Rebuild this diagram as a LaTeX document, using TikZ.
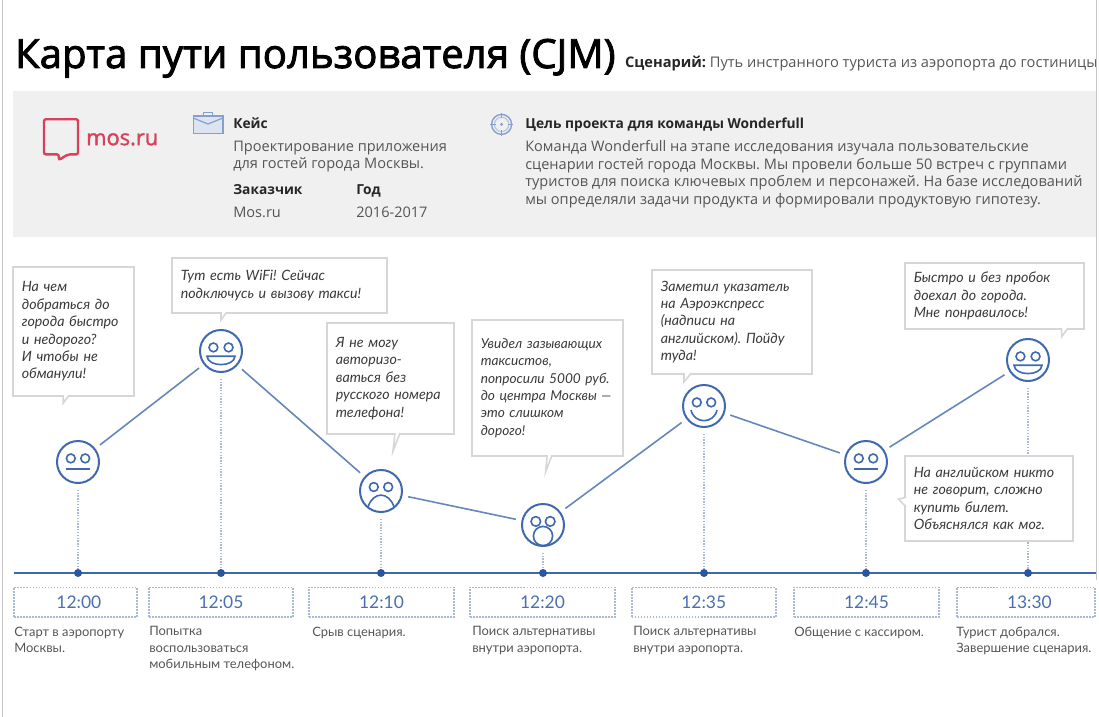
\documentclass[tikz,border=0pt]{standalone}
\usepackage{fontspec}
\setmainfont{Lato}
\newfontfamily\headfont{Open Sans}
\newfontfamily\titlefont{Open Sans}[FakeBold=2.2]
\newfontfamily\logofont{Open Sans}[FakeBold=1.6]
\frenchspacing
\usetikzlibrary{positioning,calc}
\definecolor{faceblue}{HTML}{3F69AE}
\definecolor{linkblue}{HTML}{6687BC}
\definecolor{dotblue}{HTML}{2B569F}
\definecolor{timeblue}{HTML}{4A6EAF}
\definecolor{dotgrey}{HTML}{A9BAD6}
\definecolor{panelgrey}{HTML}{F0F0F0}
\definecolor{edgegrey}{HTML}{D6D6D6}
\definecolor{bodygrey}{HTML}{555555}
\definecolor{bubbletext}{HTML}{3A3A3A}
\definecolor{mosred}{HTML}{D9405A}
\definecolor{iconblue}{HTML}{86A0CC}
\definecolor{iconfill}{HTML}{DCE4F1}
\tikzset{
  face/.style={circle, draw=faceblue, line width=0.5mm, minimum size=1.05cm,
               inner sep=0pt, outer sep=0.17cm},
  facepart/.style={draw=faceblue, line width=0.4mm},
  tick/.style={circle, fill=dotblue, minimum size=0.2cm, inner sep=0pt},
  stem/.style={dotgrey, line width=0.35mm, densely dotted},
  track/.style={faceblue, line width=0.4mm},
  link/.style={linkblue, line width=0.4mm},
  bubble/.style={rectangle, draw=edgegrey, line width=0.4mm, fill=white,
                 align=left, inner xsep=0.22cm, inner ysep=0pt,
                 text=bubbletext, font=\fontsize{10.1}{12.4}\selectfont\itshape},
  bubbletail/.style={draw=edgegrey, line width=0.4mm, fill=white},
  timebox/.style={rectangle, draw=dotgrey, line width=0.4mm, densely dotted,
                  minimum height=0.74cm, inner sep=0pt, text=timeblue,
                  font=\fontsize{12.4}{14}\selectfont},
  caption/.style={anchor=north west, align=left, inner sep=0pt, text=bodygrey,
                  font=\fontsize{9.2}{11.7}\selectfont},
  headbold/.style={anchor=base west, inner sep=0pt, text=black!85,
                   font=\headfont\fontsize{9.8}{12}\selectfont\bfseries},
  headtext/.style={anchor=north west, align=left, inner sep=0pt, text=bodygrey,
                   font=\headfont\fontsize{10.35}{12.4}\selectfont},
  edgeline/.style={black!22, line width=0.4mm}
}
\tikzset{neutralface/.pic={
  \draw[facepart] (-0.18,0.09) circle (0.11);
  \draw[facepart] (0.18,0.09) circle (0.11);
  \draw[facepart] (-0.3,-0.17) -- (0.3,-0.17);
}}
\tikzset{laughface/.pic={
  \draw[facepart] (-0.19,0.09) circle (0.11);
  \draw[facepart] (0.19,0.09) circle (0.11);
  \draw[facepart] (-0.35,-0.13) -- (0.35,-0.13) .. controls (0.33,-0.41) and (-0.33,-0.41) .. cycle;
}}
\tikzset{sadface/.pic={
  \draw[facepart] (-0.18,0.1) circle (0.11);
  \draw[facepart] (0.18,0.1) circle (0.11);
  \draw[facepart] (-0.33,-0.41) .. controls (-0.2,0) and (0.2,0) .. (0.33,-0.41);
}}
\tikzset{shockface/.pic={
  \draw[facepart] (-0.18,0.09) circle (0.12);
  \draw[facepart] (0.18,0.09) circle (0.12);
  \draw[facepart] (0,-0.275) circle (0.24);
}}
\tikzset{smileface/.pic={
  \draw[facepart] (-0.18,0.09) circle (0.11);
  \draw[facepart] (0.18,0.09) circle (0.11);
  \draw[facepart] (-0.325,-0.1) .. controls (-0.25,-0.456) and (0.25,-0.456) .. (0.325,-0.1);
}}
\begin{document}
\begin{tikzpicture}
\useasboundingbox (0,0) rectangle (27.475,-17.925);
% header
\fill[panelgrey] (0.325,-2.275) rectangle (27.4,-5.925);
\node[anchor=base west, inner sep=0pt, font=\titlefont\fontsize{28.6}{32}\selectfont] (title) at (0.37,-1.7) {Карта пути пользователя (CJM)};
\node[anchor=base west, inner sep=0pt, text=bodygrey, font=\headfont\fontsize{10.4}{12}\selectfont] (scenario) at (15.62,-1.7) {\textcolor{black!85}{\bfseries Сценарий:} Путь инстранного туриста из аэропорта до гостиницы};
% logo
\draw[mosred, line width=0.6mm, rounded corners=0.05cm] (1.1,-2.98) -- (1.95,-2.98) -- (1.95,-3.86) -- (1.7,-3.86) -- (1.47,-4.0) -- (1.47,-3.86) -- (1.1,-3.86) -- cycle;
\node[anchor=base west, inner sep=0pt, text=mosred, font=\logofont\fontsize{15.5}{18}\selectfont] (mos) at (2.15,-3.63) {mos.ru};
% case icon
\draw[iconblue, fill=iconfill, line width=0.35mm] (4.83,-2.9) rectangle (5.57,-3.33);
\draw[iconblue, line width=0.3mm] (5.08,-2.9) -- (5.08,-2.82) -- (5.32,-2.82) -- (5.32,-2.9);
\draw[iconblue, line width=0.3mm] (4.83,-2.95) -- (5.2,-3.1) -- (5.57,-2.95);
% goal icon
\draw[iconblue, line width=0.35mm] (12.54,-3.11) circle (0.25);
\draw[iconblue!60, line width=0.3mm] (12.54,-3.11) circle (0.18);
\fill[iconblue] (12.54,-3.11) circle (0.04);
\draw[iconblue, line width=0.3mm] (12.54,-2.82) -- (12.54,-2.96) (12.54,-3.26) -- (12.54,-3.4) (12.25,-3.11) -- (12.39,-3.11) (12.69,-3.11) -- (12.83,-3.11);
% case text
\node[headbold] (casehead) at (5.825,-3.22) {Кейс};
\node[headtext] (casetext) at (5.825,-3.51) {Проектирование приложения\\для гостей города Москвы.};
\node[headbold] (clienthead) at (5.825,-4.87) {Заказчик};
\node[headbold] (yearhead) at (8.9,-4.87) {Год};
\node[headtext] (clienttext) at (5.825,-5.16) {Mos.ru};
\node[headtext] (yeartext) at (8.9,-5.16) {2016-2017};
\node[headbold] (goalhead) at (13.125,-3.22) {Цель проекта для команды Wonderfull};
\node[headtext] (goaltext) at (13.125,-3.51) {Команда Wonderfull на этапе исследования изучала пользовательские\\сценарии гостей города Москвы. Мы провели больше 50 встреч с группами\\туристов для поиска ключевых проблем и персонажей. На базе исследований\\мы определяли задачи продукта и формировали продуктовую гипотезу.};
% faces
\node[face] (f1) at (1.95,-11.55) {};
\node[face] (f2) at (5.525,-8.775) {};
\node[face] (f3) at (9.525,-12.275) {};
\node[face] (f4) at (13.575,-13.125) {};
\node[face] (f5) at (17.6,-10.15) {};
\node[face] (f6) at (21.65,-11.55) {};
\node[face] (f7) at (25.7,-9.0) {};
\pic at (f1) {neutralface};
\pic at (f2) {laughface};
\pic at (f3) {sadface};
\pic at (f4) {shockface};
\pic at (f5) {smileface};
\pic at (f6) {neutralface};
\pic at (f7) {laughface};
% time axis
\coordinate (axisl) at (0.35,-14.325);
\coordinate (axisr) at (27.4,-14.325);
\draw[track] (axisl) -- (axisr);
\node[tick] (d1) at (1.95,-14.325) {};
\node[tick] (d2) at (5.525,-14.325) {};
\node[tick] (d3) at (9.525,-14.325) {};
\node[tick] (d4) at (13.575,-14.325) {};
\node[tick] (d5) at (17.6,-14.325) {};
\node[tick] (d6) at (21.65,-14.325) {};
\node[tick] (d7) at (25.7,-14.325) {};
\draw[stem] (f1) -- (d1);
\draw[stem] (f2) -- (d2);
\draw[stem] (f3) -- (d3);
\draw[stem] (f4) -- (d4);
\draw[stem] (f5) -- (d5);
\draw[stem] (f6) -- (d6);
\draw[stem] (f7) -- (d7);
\draw[link] (f1) -- (f2);
\draw[link] (f2) -- (f3);
\draw[link] (f3) -- (f4);
\draw[link] (f4) -- (f5);
\draw[link] (f5) -- (f6);
\draw[link] (f6) -- (f7);
% speech bubbles
\node[bubble, text width=2.585cm, minimum height=3.225cm] (b1) at (1.8375,-8.2875) {На чем\\добраться до\\города быстро\\и недорого?\\И чтобы не\\обманули!};
\node[bubble, text width=4.935cm, minimum height=1.375cm] (b2) at (6.9875,-7.1375) {Тут есть WiFi! Сейчас\\подключусь и вызову такси!};
\node[bubble, text width=2.735cm, minimum height=2.775cm] (b3) at (9.7625,-9.4625) {Я не могу\\авторизо-\\ваться без\\русского номера\\телефона!};
\node[bubble, text width=3.335cm, minimum height=3.4cm, font=\fontsize{9.7}{12.4}\selectfont\itshape] (b4) at (13.6875,-9.7) {Увидел зазывающих\\таксистов,\\попросили 5000 руб.\\до центра Москвы —\\это слишком\\дорого!};
\node[bubble, text width=3.56cm, minimum height=2.6cm] (b5) at (18.3,-8.05) {Заметил указатель\\на Аэроэкспресс\\(надписи на\\английском). Пойду\\туда!};
\node[bubble, text width=4.035cm, minimum height=1.65cm] (b6) at (24.8625,-7.4) {Быстро и без пробок\\доехал до города.\\Мне понравилось!};
\node[bubble, text width=3.76cm, minimum height=2.125cm] (b7) at (24.725,-12.4625) {На английском никто\\не говорит, сложно\\купить билет.\\Объяснялся как мог.};
\draw[bubbletail] (1.58,-9.88) -- (1.58,-10.08) -- (1.73,-9.88);
\draw[bubbletail] (5.525,-7.8) -- (5.525,-8.0) -- (5.67,-7.8);
\draw[bubbletail] (9.875,-10.83) -- (9.825,-11.275) -- (10.0,-10.83);
\draw[bubbletail] (13.68,-11.38) -- (13.64,-11.8) -- (13.8,-11.38);
\draw[bubbletail] (17.1,-9.33) -- (17.1,-9.55) -- (17.28,-9.33);
\draw[bubbletail] (26.54,-8.2) -- (26.54,-8.42) -- (26.7,-8.2);
\draw[bubbletail] (22.65,-12.43) -- (22.46,-12.48) -- (22.65,-12.67);
% times
\node[timebox, minimum width=3.075cm] (t1) at (1.8875,-15.055) {\hspace*{0.17cm}12:00};
\node[timebox, minimum width=3.6cm] (t2) at (5.525,-15.055) {12:05};
\node[timebox, minimum width=3.625cm] (t3) at (9.5375,-15.055) {12:10};
\node[timebox, minimum width=3.625cm] (t4) at (13.5625,-15.055) {12:20};
\node[timebox, minimum width=3.6cm] (t5) at (17.594,-15.055) {12:35};
\node[timebox, minimum width=3.625cm] (t6) at (21.6625,-15.055) {12:45};
\node[timebox, minimum width=3.45cm] (t7) at (25.65,-15.055) {\hspace*{0.17cm}13:30};
\node[caption] (c1) at (0.35,-15.66) {Старт в аэропорту\\Москвы.};
\node[caption] (c2) at (3.725,-15.66) {Попытка\\воспользоваться\\мобильным телефоном.};
\node[caption] (c3) at (7.8,-15.66) {Срыв сценария.};
\node[caption] (c4) at (11.8,-15.66) {Поиск альтернативы\\внутри аэропорта.};
\node[caption] (c5) at (15.825,-15.66) {Поиск альтернативы\\внутри аэропорта.};
\node[caption] (c6) at (19.85,-15.66) {Общение с кассиром.};
\node[caption] (c7) at (23.9,-15.66) {Турист добрался.\\Завершение сценария.};
% page edges
\draw[edgeline] (0.065,0) -- (0.065,-17.925);
\draw[edgeline] (27.41,0) -- (27.41,-14.5);
\end{tikzpicture}
\end{document}
